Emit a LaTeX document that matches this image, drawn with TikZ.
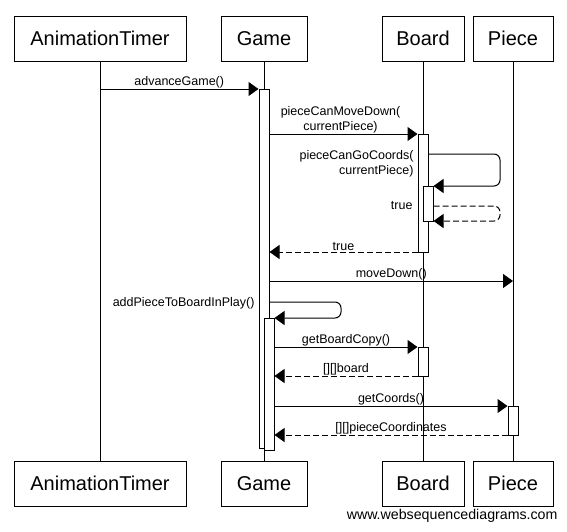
\documentclass[tikz,border=0pt]{standalone}
\usepackage{fontspec}
\setmainfont{Liberation Sans}
\usetikzlibrary{arrows.meta}
\begin{document}
\begin{tikzpicture}[x=1pt,y=-1pt,line width=1pt,
  actor/.style={draw, minimum height=45pt, inner sep=0pt, font=\fontsize{20}{23}\selectfont},
  act/.style={draw, fill=white, minimum width=10pt, inner sep=0pt},
  msg/.style={-{Triangle[length=10pt,width=14pt]}},
  ret/.style={msg, dash pattern=on 6pt off 3pt},
  lbl/.style={font=\fontsize{12.5}{15}\selectfont, inner sep=0.5pt, align=center},
  rlbl/.style={font=\fontsize{12.5}{15}\selectfont, inner sep=0pt, align=right}]
\useasboundingbox (0,0) rectangle (567,531);
% actors
\node[actor, minimum width=172pt] (atT) at (100,38.5) {AnimationTimer};
\node[actor, minimum width=86pt] (gT) at (264,38.5) {Game};
\node[actor, minimum width=82pt] (bT) at (423,38.5) {Board};
\node[actor, minimum width=80pt] (pT) at (513,38.5) {Piece};
\node[actor, minimum width=172pt] (atB) at (100,483.5) {AnimationTimer};
\node[actor, minimum width=86pt] (gB) at (264,483.5) {Game};
\node[actor, minimum width=82pt] (bB) at (423,483.5) {Board};
\node[actor, minimum width=80pt] (pB) at (513,483.5) {Piece};
% lifelines
\draw (atT.south) -- (atB.north);
\draw (gT.south) -- (gB.north);
\draw (bT.south) -- (bB.north);
\draw (pT.south) -- (pB.north);
% activations
\node[act, minimum height=359pt] (gA) at (264,268.5) {};
\node[act, minimum height=132pt] (gN) at (269,384) {};
\node[act, minimum height=118pt] (bA) at (423,193) {};
\node[act, minimum height=35pt] (bN) at (428,203.5) {};
\node[act, minimum height=29pt] (bC) at (423,361.5) {};
\node[act, minimum height=29pt] (pA) at (513,420.5) {};
% levels
\coordinate (y1) at (0,89);
\coordinate (y2) at (0,134);
\coordinate (y3a) at (0,154);
\coordinate (y3b) at (0,186);
\coordinate (y4a) at (0,206);
\coordinate (y4b) at (0,221);
\coordinate (y5) at (0,252);
\coordinate (y6) at (0,281);
\coordinate (y7a) at (0,302);
\coordinate (y7b) at (0,318);
\coordinate (y8) at (0,347);
\coordinate (y9) at (0,376);
\coordinate (y10) at (0,406);
\coordinate (y11) at (0,435);
\coordinate (sB) at (500,0);
\coordinate (sG) at (341,0);
% messages
\draw[msg] (atT.south |- y1) -- (gA.west |- y1) node[lbl, midway, above] {advanceGame()};
\draw[msg] (gA.east |- y2) -- (bA.west |- y2) node[lbl, midway, above, xshift=-3pt] {pieceCanMoveDown(\\currentPiece)};
\draw[msg, rounded corners=6pt] (bA.east |- y3a) -- (sB |- y3a) -- (sB |- y3b) -- (bN.east |- y3b);
\node[rlbl, anchor=north east] (l3) at (414,150) {pieceCanGoCoords(\\currentPiece)};
\draw[ret, rounded corners=6pt] (bN.east |- y4a) -- (sB |- y4a) -- (sB |- y4b) -- (bN.east |- y4b);
\node[rlbl, anchor=east] (l4) at (413,206) {true};
\draw[ret] (bA.west |- y5) -- (gA.east |- y5) node[lbl, midway, above] {true};
\draw[msg] (gA.east |- y6) -- (pT.south |- y6) node[lbl, midway, above] {moveDown()};
\draw[msg, rounded corners=6pt] (gA.east |- y7a) -- (sG |- y7a) -- (sG |- y7b) -- (gN.east |- y7b);
\node[rlbl, anchor=east] (l7) at (255,303) {addPieceToBoardInPlay()};
\draw[msg] (gN.east |- y8) -- (bC.west |- y8) node[lbl, midway, above] {getBoardCopy()};
\draw[ret] (bC.west |- y9) -- (gN.east |- y9) node[lbl, midway, above] {[][]board};
\draw[msg] (gN.east |- y10) -- (pA.west |- y10) node[lbl, midway, above] {getCoords()};
\draw[ret] (pA.west |- y11) -- (gN.east |- y11) node[lbl, midway, above] {[][]pieceCoordinates};
% watermark
\node[font=\fontsize{14.2}{17}\selectfont, anchor=east, inner sep=0pt] (wm) at (558,516) {www.websequencediagrams.com};
\end{tikzpicture}
\end{document}
